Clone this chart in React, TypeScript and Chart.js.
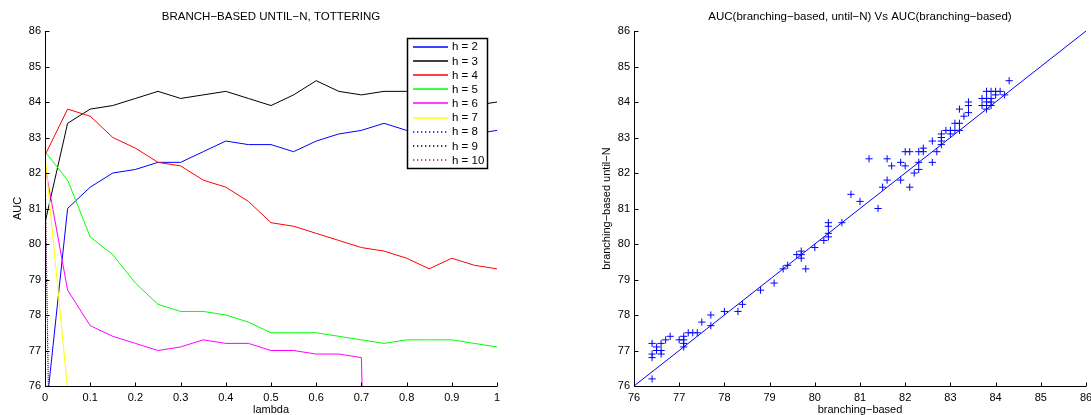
import React, { useEffect, useRef } from "react";
import { Chart, registerables } from "chart.js";

Chart.register(...registerables);

const FONT = "'Liberation Sans', Arial, Helvetica, sans-serif";

// Lambda grid shared by every h series
const lambdas = [0, 0.05, 0.1, 0.15, 0.2, 0.25, 0.3, 0.35, 0.4, 0.45, 0.5, 0.55, 0.6, 0.65, 0.7, 0.75, 0.8, 0.85, 0.9, 0.95, 1];

// AUC per lambda for each depth h (null = no value recorded)
const aucH2 = [75.0, 81.0, 81.6, 82.0, 82.1, 82.3, 82.3, 82.6, 82.9, 82.8, 82.8, 82.6, 82.9, 83.1, 83.2, 83.4, 83.2, 83.3, 83.2, 83.1, 83.2];
const aucH3 = [80.6, 83.4, 83.8, 83.9, 84.1, 84.3, 84.1, 84.2, 84.3, 84.1, 83.9, 84.2, 84.6, 84.3, 84.2, 84.3, 84.3, 84.3, 84.1, 83.9, 84.0];
const aucH4 = [82.5, 83.8, 83.6, 83.0, 82.7, 82.3, 82.2, 81.8, 81.6, 81.2, 80.6, 80.5, 80.3, 80.1, 79.9, 79.8, 79.6, 79.3, 79.6, 79.4, 79.3];
const aucH5 = [82.6, 81.8, 80.2, 79.7, 78.9, 78.3, 78.1, 78.1, 78.0, 77.8, 77.5, 77.5, 77.5, 77.4, 77.3, 77.2, 77.3, 77.3, 77.3, 77.2, 77.1];
const aucH6 = [82.2, 78.7, 77.7, 77.4, 77.2, 77.0, 77.1, 77.3, 77.2, 77.2, 77.0, 77.0, 76.9, 76.9, 76.8, 50.0, null, null, null, null, null];
const aucH7 = [82.5, 75.9, null, null, null, null, null, null, null, null, null, null, null, null, null, null, null, null, null, null, null];
const aucH8 = [82.4, 40.0, null, null, null, null, null, null, null, null, null, null, null, null, null, null, null, null, null, null, null];
const aucH9 = [82.0, 40.0, null, null, null, null, null, null, null, null, null, null, null, null, null, null, null, null, null, null, null];
const aucH10 = [82.5, 40.0, null, null, null, null, null, null, null, null, null, null, null, null, null, null, null, null, null, null, null];

const seriesValues = [aucH2, aucH3, aucH4, aucH5, aucH6, aucH7, aucH8, aucH9, aucH10];
const seriesNames = ["h = 2", "h = 3", "h = 4", "h = 5", "h = 6", "h = 7", "h = 8", "h = 9", "h = 10"];
const seriesColors = ["#0000ff", "#000000", "#ff0000", "#00ff00", "#ff00ff", "#ffff00", "#0000ff", "#000000", "#ff0000"];
const seriesDotted = [false, false, false, false, false, false, true, true, true];

// AUC pairs: branching-based (x) against branching-based until-N (y)
const scatterX = [
  76.4, 76.4, 76.4, 76.4, 76.5, 76.5, 76.6, 76.6, 76.6, 76.7, 76.8, 77.0, 77.1, 77.1, 77.1, 77.1,
  77.2, 77.3, 77.4, 77.5, 77.7, 77.7, 78.0, 78.3, 78.4, 78.8, 79.1, 79.3, 79.4, 79.6, 79.7, 79.7,
  79.7, 79.8, 80.0, 80.2, 80.3, 80.3, 80.3, 80.3, 80.6, 80.8, 81.0, 81.2, 81.4, 81.5, 81.6, 81.6,
  81.7, 81.9, 81.9, 82.0, 82.0, 82.1, 82.1, 82.2, 82.3, 82.3, 82.3, 82.4, 82.4, 82.6, 82.6, 82.7,
  82.8, 82.8, 82.8, 82.8, 82.9, 83.0, 83.0, 83.1, 83.1, 83.2, 83.2, 83.2, 83.3, 83.4, 83.4, 83.4,
  83.7, 83.7, 83.8, 83.8, 83.8, 83.8, 83.8, 83.9, 83.9, 83.9, 83.9, 84.0, 84.0, 84.1, 84.2, 84.3,
];
const scatterY = [
  76.2, 76.8, 76.9, 77.2, 77.0, 77.1, 76.9, 77.0, 77.2, 77.3, 77.4, 77.3, 77.3, 77.2, 77.1, 77.4,
  77.5, 77.5, 77.5, 77.8, 78.0, 77.7, 78.1, 78.1, 78.3, 78.7, 78.9, 79.3, 79.4, 79.7, 79.8, 79.6,
  79.7, 79.3, 79.9, 80.1, 80.2, 80.3, 80.5, 80.6, 80.6, 81.4, 81.2, 82.4, 81.0, 81.6, 81.8, 82.4,
  82.2, 81.8, 82.3, 82.2, 82.6, 82.6, 81.6, 82.0, 82.1, 82.3, 82.6, 82.6, 82.7, 82.3, 82.9, 82.6,
  82.8, 82.9, 83.0, 83.1, 83.2, 83.2, 83.1, 83.2, 83.4, 83.2, 83.4, 83.8, 83.6, 83.7, 83.9, 84.0,
  84.1, 83.9, 83.8, 83.9, 84.0, 84.1, 84.3, 84.3, 84.1, 84.0, 83.9, 84.3, 84.2, 84.3, 84.2, 84.6,
];

// Reference diagonal y = x across the full axis range
const diagonal = [76, 86];

const tickFont = { family: FONT, size: 11 };

type FrameOpts = {
  title: string;
  xTitle: string;
  yTitle: string;
  yTitleX: number;
  legend?: boolean;
};

// Legend box in the top-right corner of the lambda plot
function drawLegend(ctx: CanvasRenderingContext2D) {
  const bx = 407, by = 38, bw = 81, bh = 131;
  ctx.fillStyle = "#ffffff";
  ctx.fillRect(bx, by, bw, bh);
  ctx.strokeStyle = "#000000";
  ctx.lineWidth = 1.5;
  ctx.setLineDash([]);
  ctx.strokeRect(bx + 0.5, by + 0.5, bw - 1, bh - 1);
  ctx.font = `11.5px ${FONT}`;
  ctx.textAlign = "left";
  ctx.textBaseline = "middle";
  seriesNames.forEach((name, i) => {
    const y = 46.7 + i * 14.17;
    ctx.strokeStyle = seriesColors[i];
    ctx.lineWidth = 1.3;
    ctx.setLineDash(seriesDotted[i] ? [1.3, 2.7] : []);
    ctx.beginPath();
    ctx.moveTo(413, Math.round(y));
    ctx.lineTo(448, Math.round(y));
    ctx.stroke();
    ctx.setLineDash([]);
    ctx.fillStyle = "#000000";
    ctx.fillText(name, 452, y + 0.5);
  });
}

// Draws MATLAB-style axes: left/bottom spines, inward ticks, titles and the optional legend box
function axesFrame(o: FrameOpts) {
  return {
    id: "axesFrame",
    afterDraw(chart: any) {
      const { ctx, chartArea: a } = chart;
      const xs = chart.scales.x;
      const ys = chart.scales.y;
      ctx.save();
      ctx.strokeStyle = "#000";
      ctx.lineWidth = 1;
      ctx.setLineDash([]);
      const L = Math.round(a.left) + 0.5;
      const B = Math.round(a.bottom) + 0.5;
      ctx.beginPath();
      ctx.moveTo(L, a.top);
      ctx.lineTo(L, B);
      ctx.lineTo(a.right, B);
      xs.ticks.forEach((t: any) => {
        const p = Math.round(xs.getPixelForValue(t.value)) + 0.5;
        ctx.moveTo(p, B);
        ctx.lineTo(p, B - 4);
      });
      ys.ticks.forEach((t: any) => {
        const p = Math.round(ys.getPixelForValue(t.value)) + 0.5;
        ctx.moveTo(L, p);
        ctx.lineTo(L + 4, p);
      });
      ctx.stroke();

      ctx.fillStyle = "#000";
      ctx.font = `11.5px ${FONT}`;
      ctx.textAlign = "center";
      ctx.textBaseline = "middle";
      const cx = (a.left + a.right) / 2;
      ctx.fillText(o.title, cx, 17);
      ctx.font = `11px ${FONT}`;
      ctx.fillText(o.xTitle, cx, 410);
      ctx.save();
      ctx.translate(o.yTitleX, (a.top + a.bottom) / 2);
      ctx.rotate(-Math.PI / 2);
      ctx.fillText(o.yTitle, 0, 0);
      ctx.restore();

      if (o.legend) drawLegend(ctx);
      ctx.restore();
    },
  };
}

function leftConfig(): any {
  return {
    type: "line",
    data: {
      datasets: seriesValues.map((vals, i) => ({
        label: seriesNames[i],
        data: lambdas.map((x, k) => ({ x, y: vals[k] })),
        borderColor: seriesColors[i],
        borderWidth: 1,
        borderDash: seriesDotted[i] ? [1, 3] : [],
        pointRadius: 0,
        tension: 0,
        fill: false,
        order: seriesValues.length - 1 - i,
      })),
    },
    options: {
      animation: false,
      responsive: false,
      devicePixelRatio: 1,
      events: [],
      layout: { padding: { left: 0, right: 48, top: 31, bottom: 0 } },
      plugins: { legend: { display: false }, tooltip: { enabled: false }, title: { display: false } },
      scales: {
        x: {
          type: "linear",
          min: 0,
          max: 1,
          grid: { display: false, drawTicks: false, tickLength: 0 },
          border: { display: false },
          ticks: {
            stepSize: 0.1,
            autoSkip: false,
            maxRotation: 0,
            padding: 5,
            color: "#000",
            font: tickFont,
            callback: (v: number) => String(Math.round(v * 10) / 10),
          },
          afterFit(s: any) {
            s.height = 29;
            s.paddingLeft = 0;
            s.paddingRight = 0;
          },
        },
        y: {
          type: "linear",
          min: 76,
          max: 86,
          grid: { display: false, drawTicks: false, tickLength: 0 },
          border: { display: false },
          ticks: { stepSize: 1, padding: 4, color: "#000", font: tickFont },
          afterFit(s: any) {
            s.width = 45;
            s.paddingTop = 0;
            s.paddingBottom = 0;
          },
        },
      },
    },
    plugins: [
      axesFrame({
        title: "BRANCH−BASED UNTIL−N, TOTTERING",
        xTitle: "lambda",
        yTitle: "AUC",
        yTitleX: 18,
        legend: true,
      }),
    ],
  };
}

function rightConfig(): any {
  return {
    type: "scatter",
    data: {
      datasets: [
        {
          type: "line",
          data: diagonal.map((v) => ({ x: v, y: v })),
          borderColor: "#0000ff",
          borderWidth: 1,
          pointRadius: 0,
          fill: false,
        },
        {
          data: scatterX.map((x, i) => ({ x, y: scatterY[i] })),
          pointStyle: "cross",
          pointRadius: 3.6,
          borderColor: "#0000ff",
          backgroundColor: "#0000ff",
          borderWidth: 1,
        },
      ],
    },
    options: {
      animation: false,
      responsive: false,
      devicePixelRatio: 1,
      events: [],
      layout: { padding: { left: 0, right: 5, top: 31, bottom: 0 } },
      plugins: { legend: { display: false }, tooltip: { enabled: false }, title: { display: false } },
      scales: {
        x: {
          type: "linear",
          min: 76,
          max: 86,
          grid: { display: false, drawTicks: false, tickLength: 0 },
          border: { display: false },
          ticks: { stepSize: 1, autoSkip: false, maxRotation: 0, padding: 5, color: "#000", font: tickFont },
          afterFit(s: any) {
            s.height = 29;
            s.paddingLeft = 0;
            s.paddingRight = 0;
          },
        },
        y: {
          type: "linear",
          min: 76,
          max: 86,
          grid: { display: false, drawTicks: false, tickLength: 0 },
          border: { display: false },
          ticks: { stepSize: 1, padding: 4, color: "#000", font: tickFont },
          afterFit(s: any) {
            s.width = 89;
            s.paddingTop = 0;
            s.paddingBottom = 0;
          },
        },
      },
    },
    plugins: [
      axesFrame({
        title: "AUC(branching−based, until−N) Vs AUC(branching−based)",
        xTitle: "branching−based",
        yTitle: "branching−based until−N",
        yTitleX: 62,
      }),
    ],
  };
}

export default function App() {
  const leftRef = useRef<HTMLCanvasElement>(null);
  const rightRef = useRef<HTMLCanvasElement>(null);

  useEffect(() => {
    const left = new Chart(leftRef.current as HTMLCanvasElement, leftConfig());
    const right = new Chart(rightRef.current as HTMLCanvasElement, rightConfig());
    return () => {
      left.destroy();
      right.destroy();
    };
  }, []);

  return (
    <div style={{ position: "absolute", left: 0, top: 0, width: 1091, height: 415, background: "#fff", overflow: "hidden" }}>
      <canvas ref={leftRef} width={545} height={415} style={{ position: "absolute", left: 0, top: 0, width: 545, height: 415 }} />
      <canvas ref={rightRef} width={546} height={415} style={{ position: "absolute", left: 545, top: 0, width: 546, height: 415 }} />
    </div>
  );
}
